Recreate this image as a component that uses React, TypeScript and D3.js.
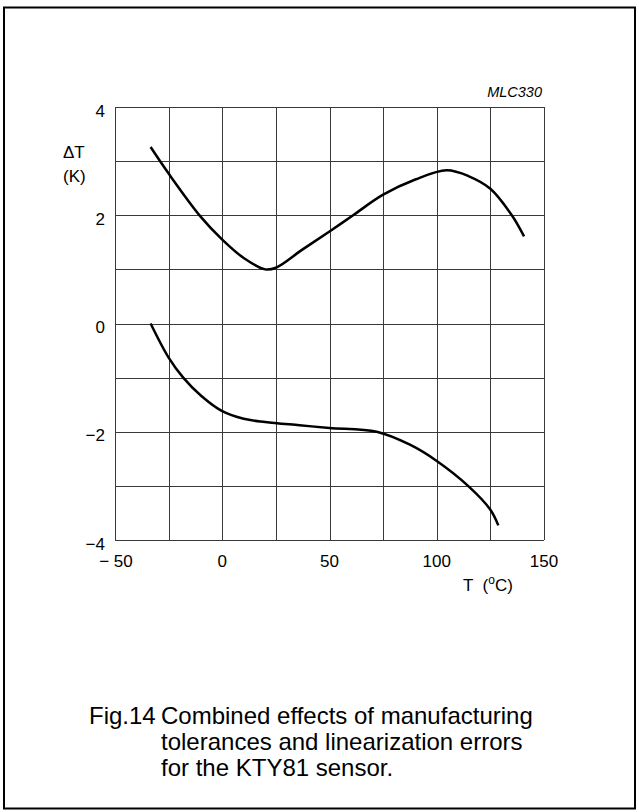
import { useEffect, useRef } from "react";
import * as d3 from "d3";

// temperature (°C) and deviation (K)
const upperT = [-33.4, -25, -10, 0, 10, 20, 25, 37.5, 50, 61, 75, 90, 104.6, 115, 125, 135, 140.7];
const upperDT = [3.26, 2.77, 1.97, 1.55, 1.21, 1.0, 1.03, 1.37, 1.7, 2.0, 2.38, 2.66, 2.83, 2.72, 2.49, 2.0, 1.61];

const lowerT = [-33.4, -25, -18.2, -10, 0, 10, 20, 36, 50, 72, 87.5, 100, 114.6, 125, 128.7];
const lowerDT = [0, -0.63, -1.0, -1.33, -1.62, -1.76, -1.82, -1.88, -1.93, -2.0, -2.24, -2.54, -3.0, -3.44, -3.73];

const xTicks = [-50, 0, 50, 100, 150];
const yTicks = [4, 2, 0, -2, -4];
const xGrid = d3.range(-50, 151, 25);
const yGrid = d3.range(-4, 5, 1);

const caption = [
  "Combined effects of manufacturing",
  "tolerances and linearization errors",
  "for the KTY81 sensor.",
];

export default function App() {
  const svgRef = useRef<SVGSVGElement>(null);
  const width = 639;
  const height = 812;

  useEffect(() => {
    const svg = d3.select(svgRef.current);
    svg.selectAll("*").remove();

    const x = d3.scaleLinear().domain([-50, 150]).range([115, 544]);
    const y = d3.scaleLinear().domain([-4, 4]).range([540, 107]);
    const font = "Liberation Sans, Arial, sans-serif";

    // outer frame
    svg
      .append("rect")
      .attr("x", 4)
      .attr("y", 7.5)
      .attr("width", 631)
      .attr("height", 801)
      .attr("fill", "none")
      .attr("stroke", "#000")
      .attr("stroke-width", 2);

    const grid = svg.append("g").attr("stroke", "#3a3a3a").attr("stroke-width", 1);
    grid
      .selectAll(".vx")
      .data(xGrid)
      .enter()
      .append("line")
      .attr("x1", (d) => Math.round(x(d)) + 0.5)
      .attr("x2", (d) => Math.round(x(d)) + 0.5)
      .attr("y1", y(4))
      .attr("y2", y(-4));
    grid
      .selectAll(".hy")
      .data(yGrid)
      .enter()
      .append("line")
      .attr("y1", (d) => Math.round(y(d)) + 0.5)
      .attr("y2", (d) => Math.round(y(d)) + 0.5)
      .attr("x1", x(-50))
      .attr("x2", x(150));

    const drawCurve = (ts: number[], vs: number[]) => {
      const pts = ts.map((t, i) => [x(t), y(vs[i])] as [number, number]);
      svg
        .append("path")
        .attr("d", d3.line().curve(d3.curveCatmullRom.alpha(0.5))(pts))
        .attr("fill", "none")
        .attr("stroke", "#000")
        .attr("stroke-width", 2.5);
    };
    drawCurve(upperT, upperDT);
    drawCurve(lowerT, lowerDT);

    // y tick labels
    svg
      .selectAll(".yl")
      .data(yTicks)
      .enter()
      .append("text")
      .attr("x", 105)
      .attr("y", (d) => y(d) + 9.5)
      .attr("text-anchor", "end")
      .attr("font-family", font)
      .attr("font-size", 17)
      .text((d) => (d < 0 ? "\u2212" + Math.abs(d) : String(d)));

    // x tick labels
    svg
      .selectAll(".xl")
      .data(xTicks)
      .enter()
      .append("text")
      .attr("x", (d) => x(d) + (d < 0 ? 1 : 0))
      .attr("y", 567)
      .attr("text-anchor", "middle")
      .attr("font-family", font)
      .attr("font-size", 17)
      .text((d) => (d < 0 ? "\u2212 " + Math.abs(d) : String(d)));

    // axis titles
    svg
      .append("text")
      .attr("x", 63)
      .attr("y", 158)
      .attr("font-family", font)
      .attr("font-size", 17)
      .text("\u0394T");
    svg
      .append("text")
      .attr("x", 63)
      .attr("y", 182)
      .attr("font-family", font)
      .attr("font-size", 17)
      .text("(K)");

    const tl = svg
      .append("text")
      .attr("x", 463)
      .attr("y", 591)
      .attr("font-family", font)
      .attr("font-size", 17)
      .attr("xml:space", "preserve")
      .style("white-space", "pre");
    tl.append("tspan").text("T  (");
    tl.append("tspan").attr("dy", -7).attr("font-size", 12).text("o");
    tl.append("tspan").attr("dy", 7).text("C)");

    svg
      .append("text")
      .attr("x", 542)
      .attr("y", 97)
      .attr("text-anchor", "end")
      .attr("font-family", font)
      .attr("font-size", 14.5)
      .attr("font-style", "italic")
      .text("MLC330");

    // caption
    svg
      .append("text")
      .attr("x", 89)
      .attr("y", 724)
      .attr("font-family", font)
      .attr("font-size", 24)
      .text("Fig.14");
    svg
      .selectAll(".cap")
      .data(caption)
      .enter()
      .append("text")
      .attr("x", 161)
      .attr("y", (_, i) => 724 + i * 26)
      .attr("font-family", font)
      .attr("font-size", 24)
      .text((d) => d);
  }, []);

  return (
    <svg
      ref={svgRef}
      width={width}
      height={height}
      style={{ position: "absolute", left: 0, top: 0, background: "#fff" }}
    />
  );
}
